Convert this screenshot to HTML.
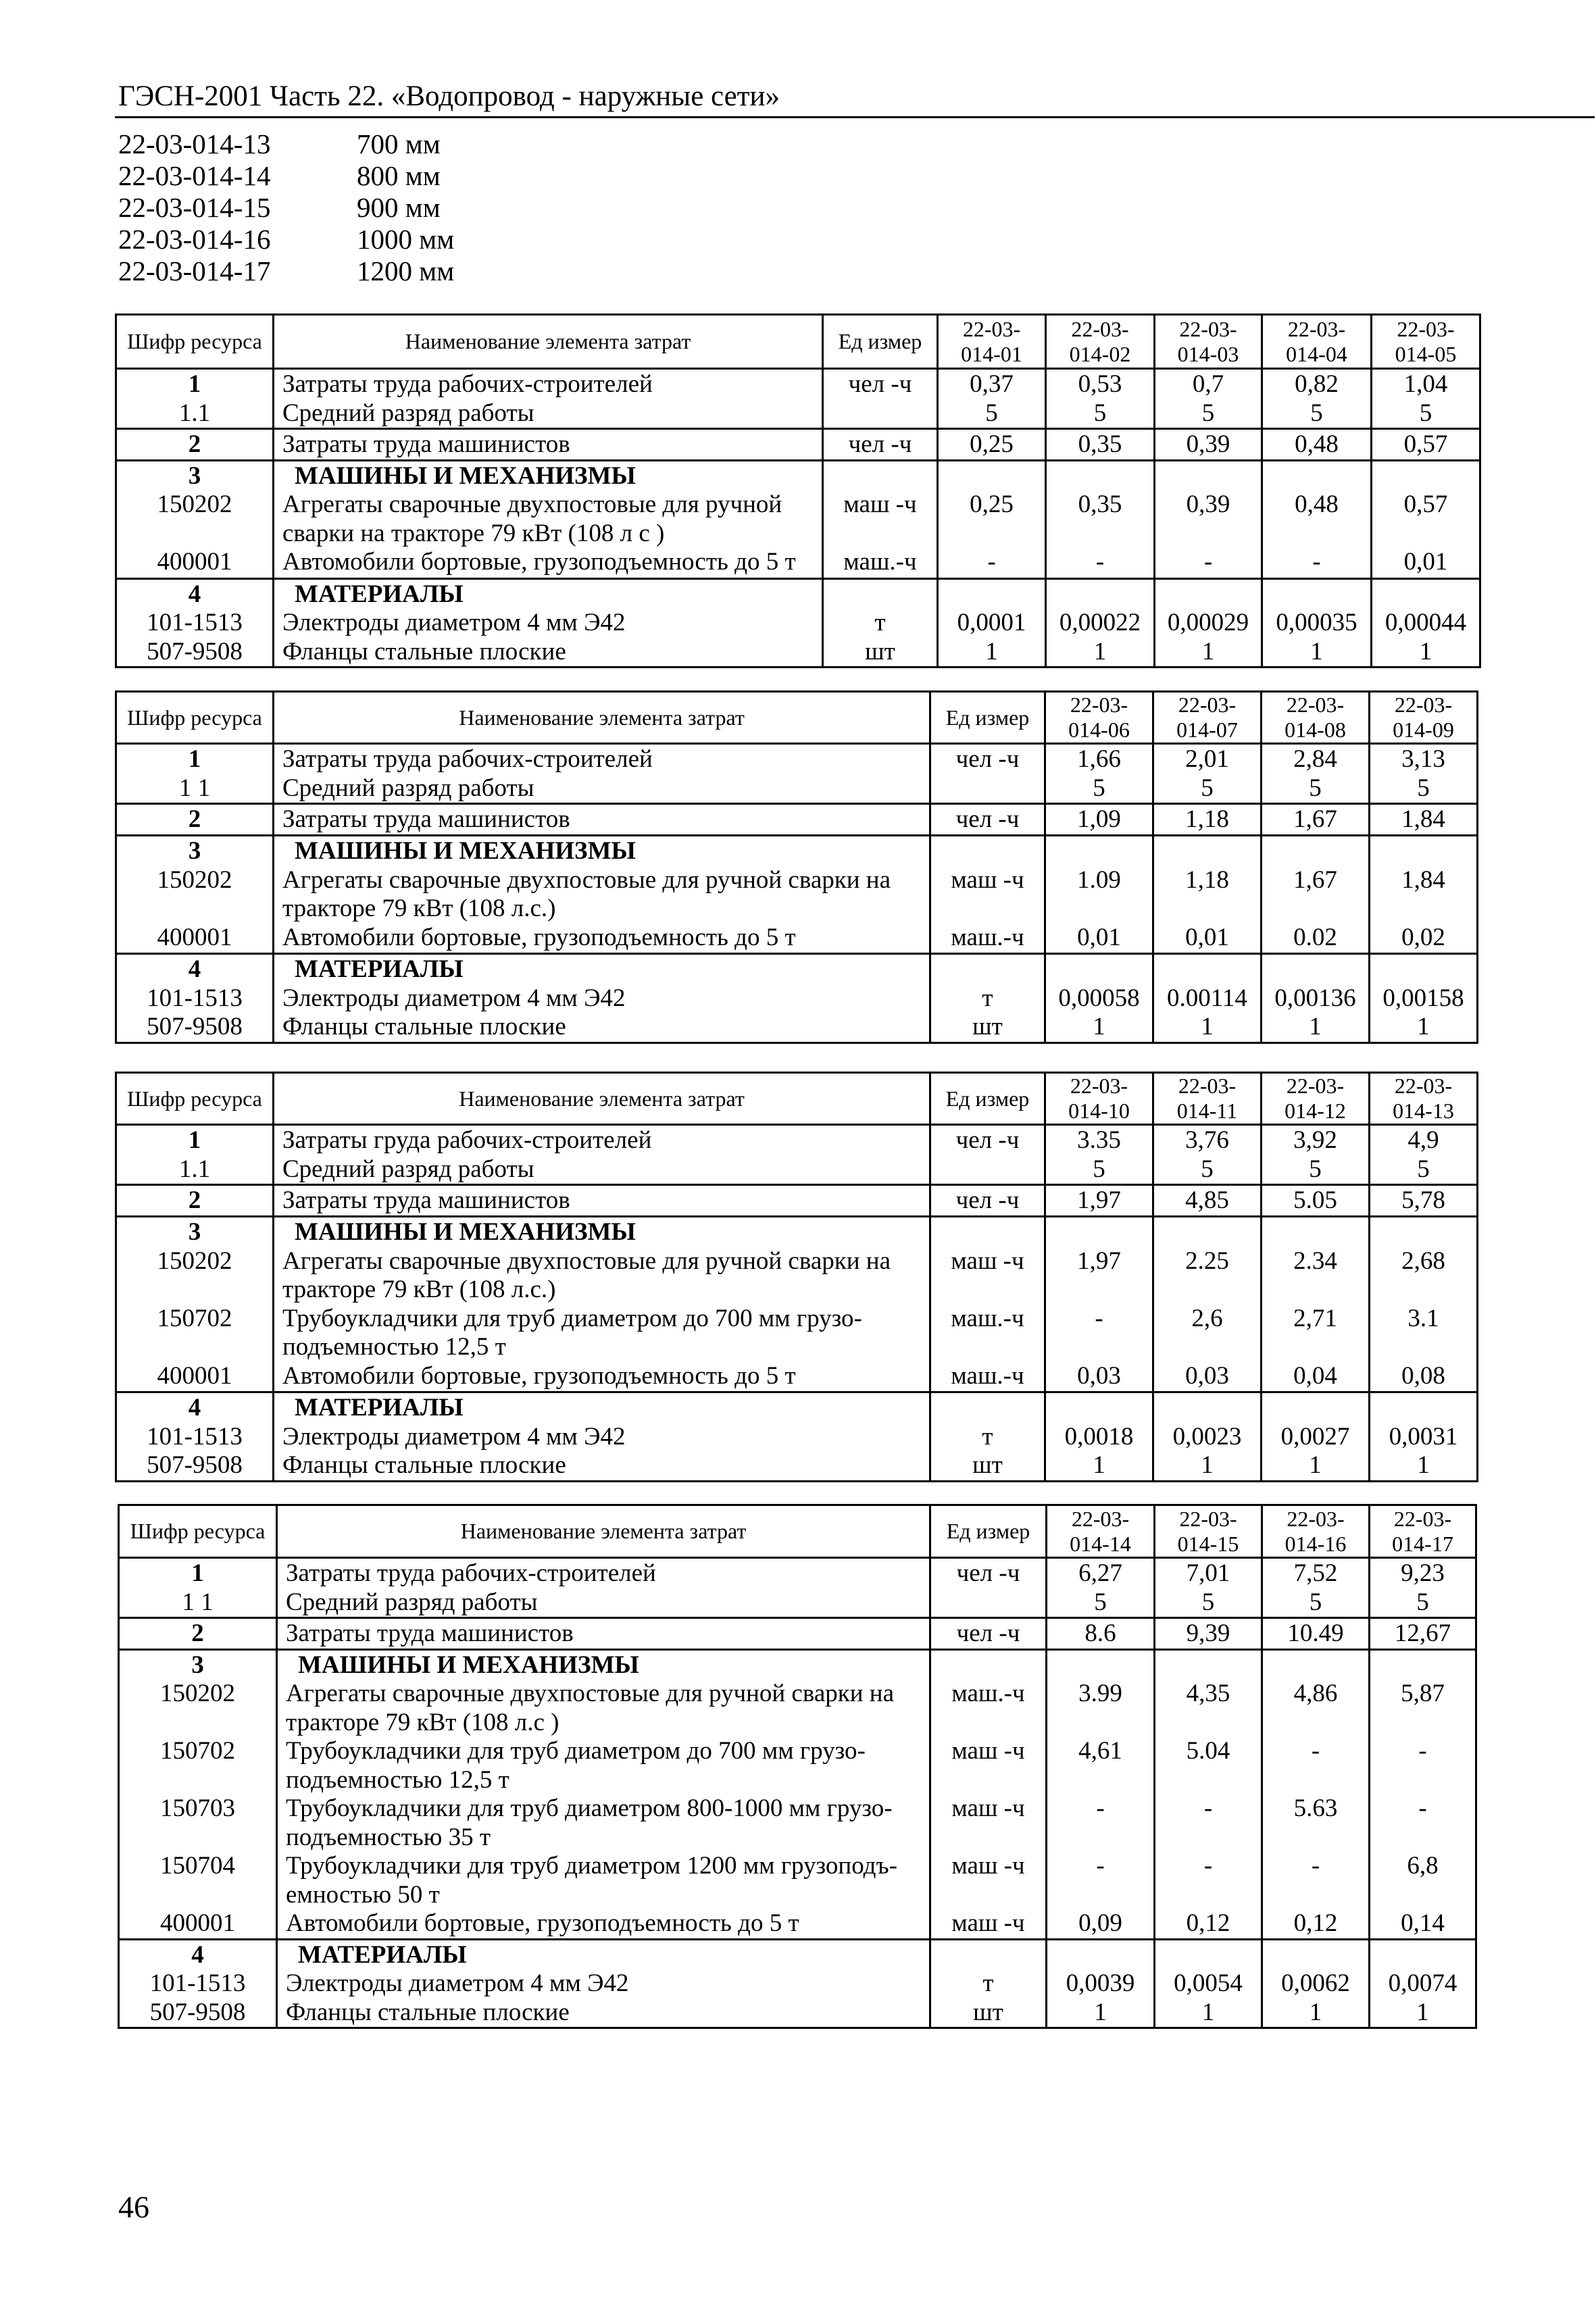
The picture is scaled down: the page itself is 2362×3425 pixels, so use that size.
<!DOCTYPE html>
<html><head><meta charset="utf-8">
<style>
html,body{margin:0;padding:0;background:#fff;}
body{width:2362px;height:3425px;position:relative;overflow:hidden;font-family:"Liberation Serif",serif;color:#000;}
.abs{position:absolute;white-space:nowrap;}
.title{left:175px;top:118px;font-size:43px;}
.hr{left:170px;top:172px;width:2190px;height:3px;background:#000;}
.lst{font-size:41px;line-height:47px;}
table{position:absolute;border-collapse:collapse;table-layout:fixed;font-size:37px;}
td{border:3px solid #000;padding:1px 0 0 0;line-height:42.5px;vertical-align:top;white-space:nowrap;overflow:hidden;text-align:center;}
td.n{text-align:left;padding-left:12px;}
tr.h td{vertical-align:middle;font-size:32px;line-height:37px;padding:0;}
b.s{margin-left:18px;}
</style></head><body>
<div class="abs title">ГЭСН-2001 Часть 22. «Водопровод - наружные сети»</div>
<div class="abs hr"></div>
<div class="abs lst" style="left:175px;top:190px;">22-03-014-13<br>22-03-014-14<br>22-03-014-15<br>22-03-014-16<br>22-03-014-17</div>
<div class="abs lst" style="left:528px;top:190px;">700 мм<br>800 мм<br>900 мм<br>1000 мм<br>1200 мм</div>

<table style="left:170px;top:464px;width:2019px;">
<colgroup><col style="width:233px"><col style="width:813px"><col style="width:170px"><col style="width:160px"><col style="width:161px"><col style="width:159px"><col style="width:162px"><col style="width:161px"></colgroup>
<tr class="h" style="height:80px"><td>Шифр ресурса</td><td>Наименование элемента затрат</td><td>Ед измер</td><td>22-03-<br>014-01</td><td>22-03-<br>014-02</td><td>22-03-<br>014-03</td><td>22-03-<br>014-04</td><td>22-03-<br>014-05</td></tr>
<tr style="height:87px"><td><b>1</b><br>1.1</td><td class="n">Затраты труда рабочих-строителей<br>Средний разряд работы</td><td>чел -ч</td><td>0,37<br>5</td><td>0,53<br>5</td><td>0,7<br>5</td><td>0,82<br>5</td><td>1,04<br>5</td></tr>
<tr style="height:44px"><td><b>2</b></td><td class="n">Затраты труда машинистов</td><td>чел -ч</td><td>0,25</td><td>0,35</td><td>0,39</td><td>0,48</td><td>0,57</td></tr>
<tr style="height:175px"><td><b>3</b><br>150202<br><br>400001</td><td class="n"><b class="s">МАШИНЫ И МЕХАНИЗМЫ</b><br>Агрегаты сварочные двухпостовые для ручной<br>сварки на тракторе 79 кВт (108 л с )<br>Автомобили бортовые, грузоподъемность до 5 т</td><td><br>маш -ч<br><br>маш.-ч</td><td><br>0,25<br><br>-</td><td><br>0,35<br><br>-</td><td><br>0,39<br><br>-</td><td><br>0,48<br><br>-</td><td><br>0,57<br><br>0,01</td></tr>
<tr style="height:128px"><td><b>4</b><br>101-1513<br>507-9508</td><td class="n"><b class="s">МАТЕРИАЛЫ</b><br>Электроды диаметром 4 мм Э42<br>Фланцы стальные плоские</td><td><br>т<br>шт</td><td><br>0,0001<br>1</td><td><br>0,00022<br>1</td><td><br>0,00029<br>1</td><td><br>0,00035<br>1</td><td><br>0,00044<br>1</td></tr>
</table>

<table style="left:170px;top:1022px;width:2015px;">
<colgroup><col style="width:233px"><col style="width:972px"><col style="width:170px"><col style="width:160px"><col style="width:160px"><col style="width:160px"><col style="width:160px"></colgroup>
<tr class="h" style="height:75px"><td>Шифр ресурса</td><td>Наименование элемента затрат</td><td>Ед измер</td><td>22-03-<br>014-06</td><td>22-03-<br>014-07</td><td>22-03-<br>014-08</td><td>22-03-<br>014-09</td></tr>
<tr style="height:89px"><td><b>1</b><br>1 1</td><td class="n">Затраты труда рабочих-строителей<br>Средний разряд работы</td><td>чел -ч</td><td>1,66<br>5</td><td>2,01<br>5</td><td>2,84<br>5</td><td>3,13<br>5</td></tr>
<tr style="height:47px"><td><b>2</b></td><td class="n">Затраты труда машинистов</td><td>чел -ч</td><td>1,09</td><td>1,18</td><td>1,67</td><td>1,84</td></tr>
<tr style="height:175px"><td><b>3</b><br>150202<br><br>400001</td><td class="n"><b class="s">МАШИНЫ И МЕХАНИЗМЫ</b><br>Агрегаты сварочные двухпостовые для ручной сварки на<br>тракторе 79 кВт (108 л.с.)<br>Автомобили бортовые, грузоподъемность до 5 т</td><td><br>маш -ч<br><br>маш.-ч</td><td><br>1.09<br><br>0,01</td><td><br>1,18<br><br>0,01</td><td><br>1,67<br><br>0.02</td><td><br>1,84<br><br>0,02</td></tr>
<tr style="height:128px"><td><b>4</b><br>101-1513<br>507-9508</td><td class="n"><b class="s">МАТЕРИАЛЫ</b><br>Электроды диаметром 4 мм Э42<br>Фланцы стальные плоские</td><td><br>т<br>шт</td><td><br>0,00058<br>1</td><td><br>0.00114<br>1</td><td><br>0,00136<br>1</td><td><br>0,00158<br>1</td></tr>
</table>

<table style="left:170px;top:1586px;width:2015px;">
<colgroup><col style="width:233px"><col style="width:972px"><col style="width:170px"><col style="width:160px"><col style="width:160px"><col style="width:160px"><col style="width:160px"></colgroup>
<tr class="h" style="height:75px"><td>Шифр ресурса</td><td>Наименование элемента затрат</td><td>Ед измер</td><td>22-03-<br>014-10</td><td>22-03-<br>014-11</td><td>22-03-<br>014-12</td><td>22-03-<br>014-13</td></tr>
<tr style="height:88px"><td><b>1</b><br>1.1</td><td class="n">Затраты груда рабочих-строителей<br>Средний разряд работы</td><td>чел -ч</td><td>3.35<br>5</td><td>3,76<br>5</td><td>3,92<br>5</td><td>4,9<br>5</td></tr>
<tr style="height:47px"><td><b>2</b></td><td class="n">Затраты труда машинистов</td><td>чел -ч</td><td>1,97</td><td>4,85</td><td>5.05</td><td>5,78</td></tr>
<tr style="height:260px"><td><b>3</b><br>150202<br><br>150702<br><br>400001</td><td class="n"><b class="s">МАШИНЫ И МЕХАНИЗМЫ</b><br>Агрегаты сварочные двухпостовые для ручной сварки на<br>тракторе 79 кВт (108 л.с.)<br>Трубоукладчики для труб диаметром до 700 мм грузо-<br>подъемностью 12,5 т<br>Автомобили бортовые, грузоподъемность до 5 т</td><td><br>маш -ч<br><br>маш.-ч<br><br>маш.-ч</td><td><br>1,97<br><br>-<br><br>0,03</td><td><br>2.25<br><br>2,6<br><br>0,03</td><td><br>2.34<br><br>2,71<br><br>0,04</td><td><br>2,68<br><br>3.1<br><br>0,08</td></tr>
<tr style="height:128px"><td><b>4</b><br>101-1513<br>507-9508</td><td class="n"><b class="s">МАТЕРИАЛЫ</b><br>Электроды диаметром 4 мм Э42<br>Фланцы стальные плоские</td><td><br>т<br>шт</td><td><br>0,0018<br>1</td><td><br>0,0023<br>1</td><td><br>0,0027<br>1</td><td><br>0,0031<br>1</td></tr>
</table>

<table style="left:174px;top:2226px;width:2009px;">
<colgroup><col style="width:234px"><col style="width:967px"><col style="width:172px"><col style="width:160px"><col style="width:159px"><col style="width:159px"><col style="width:158px"></colgroup>
<tr class="h" style="height:78px"><td>Шифр ресурса</td><td>Наименование элемента затрат</td><td>Ед измер</td><td>22-03-<br>014-14</td><td>22-03-<br>014-15</td><td>22-03-<br>014-16</td><td>22-03-<br>014-17</td></tr>
<tr style="height:88px"><td><b>1</b><br>1 1</td><td class="n">Затраты труда рабочих-строителей<br>Средний разряд работы</td><td>чел -ч</td><td>6,27<br>5</td><td>7,01<br>5</td><td>7,52<br>5</td><td>9,23<br>5</td></tr>
<tr style="height:44px"><td><b>2</b></td><td class="n">Затраты труда машинистов</td><td>чел -ч</td><td>8.6</td><td>9,39</td><td>10.49</td><td>12,67</td></tr>
<tr style="height:428px"><td><b>3</b><br>150202<br><br>150702<br><br>150703<br><br>150704<br><br>400001</td><td class="n"><b class="s">МАШИНЫ И МЕХАНИЗМЫ</b><br>Агрегаты сварочные двухпостовые для ручной сварки на<br>тракторе 79 кВт (108 л.с )<br>Трубоукладчики для труб диаметром до 700 мм грузо-<br>подъемностью 12,5 т<br>Трубоукладчики для труб диаметром 800-1000 мм грузо-<br>подъемностью 35 т<br>Трубоукладчики для труб диаметром 1200 мм грузоподъ-<br>емностью 50 т<br>Автомобили бортовые, грузоподъемность до 5 т</td><td><br>маш.-ч<br><br>маш -ч<br><br>маш -ч<br><br>маш -ч<br><br>маш -ч</td><td><br>3.99<br><br>4,61<br><br>-<br><br>-<br><br>0,09</td><td><br>4,35<br><br>5.04<br><br>-<br><br>-<br><br>0,12</td><td><br>4,86<br><br>-<br><br>5.63<br><br>-<br><br>0,12</td><td><br>5,87<br><br>-<br><br>-<br><br>6,8<br><br>0,14</td></tr>
<tr style="height:130px"><td><b>4</b><br>101-1513<br>507-9508</td><td class="n"><b class="s">МАТЕРИАЛЫ</b><br>Электроды диаметром 4 мм Э42<br>Фланцы стальные плоские</td><td><br>т<br>шт</td><td><br>0,0039<br>1</td><td><br>0,0054<br>1</td><td><br>0,0062<br>1</td><td><br>0,0074<br>1</td></tr>
</table>

<div class="abs" style="left:175px;top:3240px;font-size:46px;">46</div>
</body></html>
